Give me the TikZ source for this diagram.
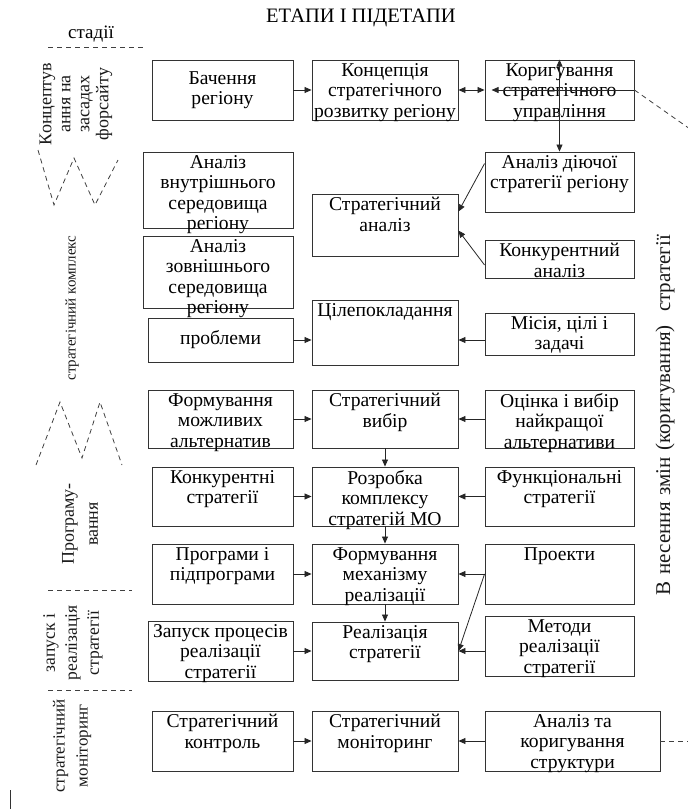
\documentclass[tikz,border=0pt]{standalone}
\usepackage{fontspec}
\setmainfont{Liberation Serif}
\usetikzlibrary{arrows.meta}
\tikzset{wh/.style 2 args={minimum width=#1, minimum height=#2}}

\begin{document}
\begin{tikzpicture}[x=1pt, y=-1pt, >={Triangle[length=7pt,width=6pt]}]
            \tikzstyle{box}=[draw=black!80, line width=0.9pt, inner sep=1pt, align=center, font=\fontsize{19.6}{20.5}\selectfont, text=black]
            \tikzstyle{txt}=[anchor=north, align=center, inner sep=1pt, yshift=-2.5pt, font=\fontsize{19.6}{20.5}\selectfont, text=black]
            \tikzstyle{stage}=[rotate=90, align=center, inner sep=0pt, font=\fontsize{18}{19}\selectfont, text=black!90]
            \tikzstyle{sep}=[draw=black!75, line width=0.8pt, dash pattern=on 5pt off 4pt]
            \tikzstyle{edge}=[draw=black!85, line width=0.8pt, ->]
            \useasboundingbox (0,0) rectangle (688,809);

            % titles and stages
            \node[font=\fontsize{20.5}{22}\selectfont] (title) at (361,18) {ЕТАПИ І ПІДЕТАПИ};
            \node[font=\fontsize{19}{20}\selectfont] (stages) at (91,34) {стадії};
            \draw[sep] (48,47) -- (143,47);
            \node[stage] (stg1) at (76,104) {Концептув\\ання на\\засадах\\форсайту};
            \draw[sep] (38,150) -- (54,205) -- (74,158) -- (95,205) -- (118,160);
            \node[stage, font=\fontsize{15}{18}\selectfont] (stg2) at (72,308) {стратегічний комплекс};
            \draw[sep] (36,465) -- (60,402) -- (82,458) -- (100,402) -- (122,465);
            \node[stage] (stg3) at (80,524) {Програму-\\[5pt]вання};
            \draw[sep] (48,590) -- (132,590);
            \node[stage, font=\fontsize{17.5}{22}\selectfont] (stg4) at (73,643) {запуск і\\реалізація\\стратегії};
            \draw[sep] (48,690) -- (132,690);
            \node[stage, font=\fontsize{17}{23}\selectfont] (stg5) at (72,746) {стратегічний\\моніторинг};
            \draw[black!80, line width=0.9pt] (10,790) -- (10,809);
            \node[stage, font=\fontsize{21}{22}\selectfont] (chg) at (665,415) {\makebox[360pt][s]{В несення змін (коригування)\ \ стратегії}};

            % boxes
            \node[box, wh={141}{60}] (vis) at (222.5,90) {Бачення\\регіону};
            \node[box, wh={146}{60}, label={[txt]north:Концепція\\стратегічного\\розвитку регіону}] (conc) at (385,90) {};
            \node[box, wh={149}{60}, label={[txt]north:Коригування\\стратегічного\\управління}] (corr) at (559.5,90) {};
            \node[box, wh={150}{76}, label={[txt]north:Аналіз\\внутрішнього\\середовища\\регіону}] (intan) at (218,190) {};
            \node[box, wh={149}{60}, label={[txt]north:Аналіз діючої\\стратегії регіону}] (curan) at (559.5,182) {};
            \node[box, wh={146}{62}, label={[txt]north:Стратегічний\\аналіз}] (stran) at (385,225) {};
            \node[box, wh={149}{38}, label={[txt]north:Конкурентний\\аналіз}] (compan) at (559.5,259) {};
            \node[box, wh={150}{72}, label={[txt]north:Аналіз\\зовнішнього\\середовища\\регіону}] (extan) at (218,272) {};
            \node[box, wh={145}{44}] (probl) at (220.5,340) {проблеми};
            \node[box, wh={146}{65}, label={[txt]north:Цілепокладання}] (goals) at (385,332.5) {};
            \node[box, wh={149}{42}, label={[txt]north:{Місія, цілі і\\задачі}}] (miss) at (559.5,334) {};
            \node[box, wh={145}{58}, label={[txt]north:Формування\\можливих\\альтернатив}] (alt) at (220.5,419) {};
            \node[box, wh={146}{58}, label={[txt]north:Стратегічний\\вибір}] (choice) at (385,419) {};
            \node[box, wh={149}{58}, label={[txt]north:Оцінка і вибір\\найкращої\\альтернативи}] (best) at (559.5,419) {};
            \node[box, wh={141}{59}, label={[txt]north:Конкурентні\\стратегії}] (cstr) at (222.5,496.5) {};
            \node[box, wh={146}{59}, label={[txt]north:Розробка\\комплексу\\стратегій МО}] (dev) at (385,496.5) {};
            \node[box, wh={149}{59}, label={[txt]north:Функціональні\\стратегії}] (fstr) at (559.5,496.5) {};
            \node[box, wh={141}{60}, label={[txt]north:Програми і\\підпрограми}] (prog) at (222.5,574) {};
            \node[box, wh={146}{60}, label={[txt]north:Формування\\механізму\\реалізації}] (mech) at (385,574) {};
            \node[box, wh={149}{60}, label={[txt]north:Проекти}] (proj) at (559.5,574) {};
            \node[box, wh={145}{60}, label={[txt]north:Запуск процесів\\реалізації\\стратегії}] (launch) at (220.5,651) {};
            \node[box, wh={146}{58}, label={[txt]north:Реалізація\\стратегії}] (impl) at (385,651) {};
            \node[box, wh={149}{60}, label={[txt]north:Методи\\реалізації\\стратегії}] (meth) at (559.5,646) {};
            \node[box, wh={141}{60}, label={[txt]north:Стратегічний\\контроль}] (ctrl) at (222.5,741) {};
            \node[box, wh={146}{60}, label={[txt]north:Стратегічний\\моніторинг}] (mon) at (385,741) {};
            \node[box, wh={175}{60}, label={[txt]north:Аналіз та\\коригування\\структури}] (struct) at (572.5,741) {};

            % connections
            \coordinate (fb1) at (690,129);
            \coordinate (fb2) at (690,741);
            \draw[edge] (vis) -- (conc);
            \draw[edge, <->] (conc) -- (corr);
            \draw[sep] (corr.east) -- (fb1);
            \draw[edge] (corr.east) -- ([xshift=7pt]corr.west);
            \draw[edge, <->] (corr.north) -- (curan.north);
            \draw[edge] ([yshift=-12pt]curan.north west) -- ([yshift=-18pt]stran.north east);
            \draw[edge] ([yshift=-6pt]compan.west) -- ([yshift=-37pt]stran.north east);
            \draw[edge] (probl.east) -- (goals.west |- probl.east);
            \draw[edge] (miss.west |- probl.east) -- (goals.east |- probl.east);
            \draw[edge] (alt) -- (choice);
            \draw[edge] (best) -- (choice);
            \draw[edge] (choice) -- (dev);
            \draw[edge] (cstr) -- (dev);
            \draw[edge] (fstr) -- (dev);
            \draw[edge] (dev) -- (mech);
            \draw[edge] (prog) -- (mech);
            \draw[edge] (proj) -- (mech);
            \draw[edge] (proj.west) -- (impl.east);
            \draw[edge] (mech) -- (impl);
            \draw[edge] (launch) -- (impl);
            \draw[edge] (meth.west |- impl.east) -- (impl.east);
            \draw[edge] (ctrl) -- (mon);
            \draw[edge] (struct) -- (mon);
            \draw[sep] (struct.east) -- (fb2);
        \end{tikzpicture}
\end{document}
